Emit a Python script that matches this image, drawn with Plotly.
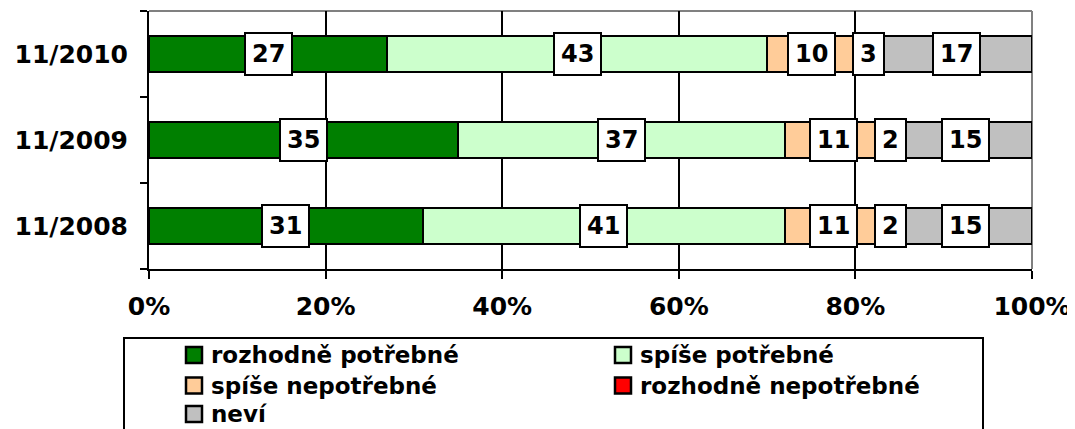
import plotly.graph_objects as go

categories = ["11/2008", "11/2009", "11/2010"]
series_names = ["rozhodně potřebné", "spíše potřebné", "spíše nepotřebné",
                "rozhodně nepotřebné", "neví"]
rozhodne_potrebne = [31, 35, 27]
spise_potrebne = [41, 37, 43]
spise_nepotrebne = [11, 11, 10]
rozhodne_nepotrebne = [2, 2, 3]
nevi = [15, 15, 17]
series_values = [rozhodne_potrebne, spise_potrebne, spise_nepotrebne,
                 rozhodne_nepotrebne, nevi]
colors = ["#007F00", "#CCFFCC", "#FFCC99", "#FF0000", "#C0C0C0"]
x_tick_values = [0, 20, 40, 60, 80, 100]
x_tick_labels = ["0%", "20%", "40%", "60%", "80%", "100%"]

FONT = "DejaVu Sans"
OFF = 8  # page body margin of the html page
W, H = 1075 - OFF, 429 - OFF
ML, MR, MT, MB = 149 - OFF, 43, 11 - OFF, 160
PW, PH = W - ML - MR, H - MT - MB


def px_x(p):
    return (p - OFF - ML) / PW


def px_y(p):
    return (H - MB - (p - OFF)) / PH


fig = go.Figure()
for name, vals, col in zip(series_names, series_values, colors):
    fig.add_trace(go.Bar(
        y=categories, x=vals, name=name, orientation="h",
        marker=dict(color=col, line=dict(color="black", width=2)),
        hoverinfo="skip", showlegend=False,
    ))

annotations = []
cum = [0] * len(categories)
for vals in series_values:
    for i, v in enumerate(vals):
        annotations.append(dict(
            x=cum[i] + v / 2, y=categories[i], xref="x", yref="y",
            text=str(v), showarrow=False,
            font=dict(family=FONT, size=24, color="black", weight="bold"),
            bgcolor="white", bordercolor="black", borderwidth=2, borderpad=6,
        ))
        cum[i] += v

shapes = [
    dict(type="line", xref="paper", yref="paper", x0=0, x1=1, y0=1, y1=1,
         line=dict(color="#808080", width=2), layer="between"),
    dict(type="line", xref="paper", yref="paper", x0=1, x1=1, y0=0, y1=1,
         line=dict(color="#808080", width=2), layer="between"),
    dict(type="rect", xref="paper", yref="paper",
         x0=px_x(124), x1=px_x(983), y0=px_y(445), y1=px_y(338),
         line=dict(color="black", width=2), fillcolor="rgba(0,0,0,0)"),
]

# custom legend (two columns, row-wise order)
legend_cols_px = [(185, 209), (614, 638)]
legend_rows_px = [355, 385.5, 414]
for k, (name, col) in enumerate(zip(series_names, colors)):
    r, c = divmod(k, 2)
    mx, tx = legend_cols_px[c]
    cy = legend_rows_px[r]
    shapes.append(dict(
        type="rect", xref="paper", yref="paper",
        x0=px_x(mx + 1), x1=px_x(mx + 17), y0=px_y(cy + 8), y1=px_y(cy - 8),
        fillcolor=col, line=dict(color="black", width=2.5),
    ))
    annotations.append(dict(
        x=px_x(tx), y=px_y(cy), xref="paper", yref="paper",
        xanchor="left", yanchor="middle", text=name, showarrow=False,
        font=dict(family=FONT, size=23, color="black", weight="bold"),
    ))

fig.update_layout(
    width=W, height=H, autosize=False,
    margin=dict(l=ML, r=MR, t=MT, b=MB, pad=0),
    barmode="stack", bargap=0.59,
    paper_bgcolor="white", plot_bgcolor="white",
    font=dict(family=FONT, color="black"),
    xaxis=dict(
        range=[0, 100], tickvals=x_tick_values, ticktext=x_tick_labels,
        showgrid=True, gridcolor="black", gridwidth=2,
        showline=True, linecolor="black", linewidth=2, zeroline=False,
        ticks="outside", ticklen=8, tickwidth=2, tickcolor="black",
        tickfont=dict(family=FONT, size=25, color="black", weight="bold"),
        ticklabelstandoff=6, fixedrange=True, automargin=False,
    ),
    yaxis=dict(
        categoryorder="array", categoryarray=categories,
        showline=True, linecolor="black", linewidth=2, showgrid=False,
        ticks="outside", ticklen=7, tickwidth=2, tickcolor="black",
        tickson="boundaries",
        tickfont=dict(family=FONT, size=25, color="black", weight="bold"),
        ticklabelstandoff=14, fixedrange=True, automargin=False,
    ),
    annotations=annotations,
    shapes=shapes,
    showlegend=False,
)

fig.write_html("out.html")
